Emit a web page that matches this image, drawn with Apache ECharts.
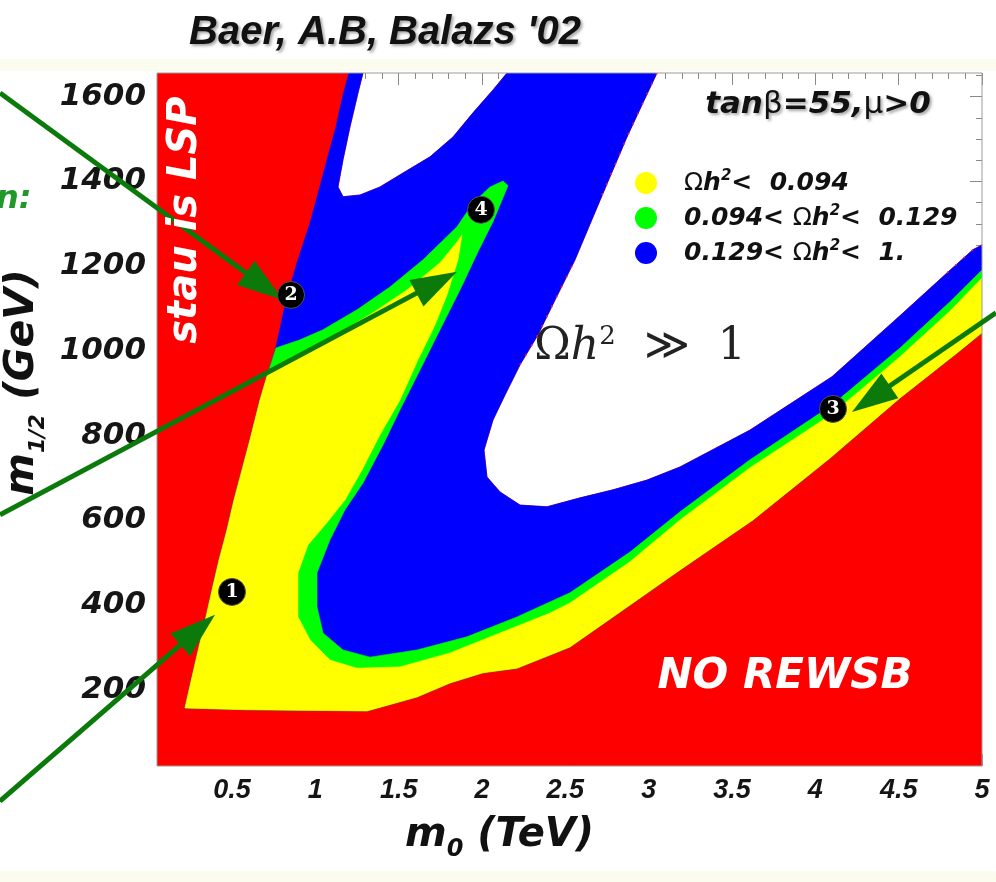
<!DOCTYPE html>
<html><head><meta charset="utf-8">
<script src="https://cdn.jsdelivr.net/npm/echarts@6/dist/echarts.min.js"></script>
<style>html,body{margin:0;padding:0;background:#fff}#c{width:996px;height:882px}</style>
</head><body><div id="c"></div>
<script>
// ---------------- axes ----------------
const X_MIN = 0.05, X_MAX = 5.0, Y_MIN = 20, Y_MAX = 1656;
const xMajorTicks = [0.5,1,1.5,2,2.5,3,3.5,4,4.5,5];
const xTickLabels = ['0.5','1','1.5','2','2.5','3','3.5','4','4.5','5'];
const xMinorTicks = [0.1,0.2,0.3,0.4,0.5,0.6,0.7,0.8,0.9,1.0,1.1,1.2,1.3,1.4,1.5,1.6,1.7,1.8,1.9,2.0,2.1,2.2,2.3,2.4,2.5,2.6,2.7,2.8,2.9,3.0,3.1,3.2,3.3,3.4,3.5,3.6,3.7,3.8,3.9,4.0,4.1,4.2,4.3,4.4,4.5,4.6,4.7,4.8,4.9,5.0];
const yMajorTicks = [200,400,600,800,1000,1200,1400,1600];
const yTickLabels = ['200','400','600','800','1000','1200','1400','1600'];
const yMinorTicks = [50,100,150,200,250,300,350,400,450,500,550,600,650,700,750,800,850,900,950,1000,1050,1100,1150,1200,1250,1300,1350,1400,1450,1500,1550,1600,1650];

// ---------------- region boundaries [m0 (TeV), m1/2 (GeV)] ----------------
// stau-LSP boundary, bottom -> top
const stauEdge = [[0.218,157],[0.266,240],[0.302,301],[0.344,372],[0.380,435],[0.422,506],[0.470,577],[0.512,648],[0.560,719],[0.608,790],[0.668,884],[0.716,948],[0.764,1009],[0.812,1097],[0.848,1151],[0.890,1208],[0.968,1302],[1.022,1380],[1.070,1451],[1.124,1529],[1.166,1604],[1.202,1656]];
// lower edge of scanned region
const bottomEdge = [[0.578,153]];
// no-REWSB boundary, left -> right
const rewsbEdge = [[1.310,150],[1.610,183],[1.808,216],[2.006,240],[2.210,251],[2.408,282],[2.528,301],[2.888,400],[3.188,483],[3.626,601],[4.088,747],[4.508,889],[4.850,995],[5.0,1043]];
// white (Omega h^2 > 1) upper-left pocket, top-left -> top-right
const whiteBlob = [[1.286,1656],[1.256,1609],[1.208,1529],[1.166,1451],[1.136,1387],[1.166,1364],[1.268,1368],[1.388,1387],[1.526,1420],[1.688,1458],[1.826,1505],[1.946,1562],[2.066,1616],[2.150,1656]];
// white (Omega h^2 >> 1) main region, top -> bottom tip -> right edge
const whiteMain = [[3.050,1656],[2.966,1586],[2.870,1505],[2.768,1411],[2.666,1316],[2.558,1215],[2.438,1120],[2.336,1038],[2.228,967],[2.138,896],[2.066,837],[2.012,766],[2.030,702],[2.108,667],[2.228,636],[2.390,632],[2.588,653],[2.786,672],[2.990,695],[3.188,726],[3.608,813],[4.100,939],[4.508,1083],[4.790,1184],[4.946,1239],[5.0,1250]];
// stretches of the white edge speckled with red cells
const redSpeckleA = [[3.050,1656],[2.966,1586],[2.870,1505],[2.768,1411],[2.700,1350]];
const redSpeckleB = [[2.540,1200],[2.438,1120],[2.336,1038],[2.228,967]];
const redSpeckleC = [[4.790,1184],[4.946,1239],[5.0,1250]];
// green / blue boundary
const greenEdge = [[0.764,1007],[0.908,1026],[1.046,1050],[1.250,1097],[1.448,1151],[1.646,1215],[1.850,1293],[1.946,1349],[2.048,1387],[2.126,1401],[2.156,1390],[2.066,1305],[1.976,1234],[1.868,1144],[1.748,1050],[1.628,955],[1.508,861],[1.406,778],[1.286,688],[1.178,625],[1.088,554],[1.010,476],[1.010,396],[1.046,334],[1.166,294],[1.328,277],[1.610,294],[1.910,325],[2.210,372],[2.528,429],[2.888,525],[3.188,620],[3.608,743],[4.100,872],[4.508,1007],[4.808,1116],[5.0,1191]];
// yellow / green boundary
const yellowEdge = [[0.724,955],[0.770,960],[0.950,995],[1.148,1043],[1.346,1090],[1.550,1144],[1.748,1208],[1.850,1257],[1.880,1274],[1.856,1215],[1.790,1132],[1.718,1061],[1.616,979],[1.508,884],[1.388,802],[1.280,719],[1.178,648],[1.058,589],[0.956,542],[0.896,476],[0.896,372],[0.968,318],[1.088,270],[1.250,251],[1.508,254],[1.808,287],[2.108,334],[2.408,381],[2.528,405],[2.888,502],[3.188,601],[3.608,724],[4.100,851],[4.508,986],[4.808,1094],[5.0,1172]];

// benchmark points
const markerPoints = [[0.500,431],[0.854,1132],[4.106,863],[1.994,1333]];
const markerLabels = ['1','2','3','4'];
// annotation arrows (start -> tip)
const arrowStarts = [[-0.892,1609],[-0.892,613],[-0.892,-63],[5.084,1090]];
const arrowEnds   = [[0.806,1120],[1.850,1187],[0.398,377],[4.220,856]];

const legendNames = ['yellow','green','blue'];
const legendTexts = ['{o|Ω}{t|h}{p|2}{t|<  0.094}','{t|0.094< }{o|Ω}{t|h}{p|2}{t|<  0.129}','{t|0.129< }{o|Ω}{t|h}{p|2}{t|<  1.}'];

// ---------------- build polygons ----------------
const rewsbRev = rewsbEdge.slice().reverse();
const redPoly = [[X_MIN,Y_MIN],[X_MIN,Y_MAX]].concat(whiteBlob, whiteMain, [[X_MAX,Y_MIN]]);
const bluePoly = stauEdge.concat(whiteBlob, whiteMain, rewsbRev, bottomEdge);
const greenPoly = greenEdge.concat(rewsbRev, bottomEdge, stauEdge.filter(p => p[1] < greenEdge[0][1]));
const yellowPoly = yellowEdge.concat(rewsbRev, bottomEdge, stauEdge.filter(p => p[1] < yellowEdge[0][1]));

function regionSeries(name, pts, color) {
  return {
    type: 'custom', name: name, coordinateSystem: 'cartesian2d', xAxisIndex: 0, yAxisIndex: 0,
    data: pts, z: 2, silent: true, clip: true, itemStyle: {color: color},
    encode: {x: 0, y: 1},
    renderItem: function (params, api) {
      if (params.dataIndex !== 0) return null;
      return {type: 'polygon', shape: {points: pts.map(p => api.coord(p))},
        style: {fill: color, stroke: color, lineWidth: 0.6}};
    }
  };
}
function speckleSeries(pts) {
  return {
    type: 'custom', coordinateSystem: 'cartesian2d', data: pts, z: 3, silent: true, clip: true,
    encode: {x: 0, y: 1},
    renderItem: function (params, api) {
      if (params.dataIndex !== 0) return null;
      return {type: 'polyline', shape: {points: pts.map(p => api.coord(p))},
        style: {fill: 'none', stroke: '#ff2020', lineWidth: 1.6, lineDash: [2, 9]}};
    }
  };
}

const F_SANS = '"DejaVu Sans", sans-serif';
const F_ARIAL = '"Liberation Sans", Arial, sans-serif';
const F_SERIF = '"DejaVu Serif", "Liberation Serif", serif';
const tickColor = '#8a8a8a';

function xAxisDef(pos, major) {
  return {
    type: 'value', min: X_MIN, max: X_MAX, position: pos, gridIndex: 0,
    splitLine: {show: false}, axisLine: {show: false},
    axisTick: {show: true, inside: true, length: major ? 12 : 6, customValues: major ? xMajorTicks : xMinorTicks, lineStyle: {color: tickColor, width: 1}},
    axisLabel: {show: false}
  };
}
function yAxisDef(pos, major) {
  return {
    type: 'value', min: Y_MIN, max: Y_MAX, position: pos, gridIndex: 0,
    splitLine: {show: false}, axisLine: {show: false},
    axisTick: {show: true, inside: true, length: major ? 12 : 6, customValues: major ? yMajorTicks : yMinorTicks, lineStyle: {color: tickColor, width: 1}},
    axisLabel: {show: false}
  };
}

const xMain = xAxisDef('bottom', true);
xMain.axisLabel = {
  show: true, customValues: xMajorTicks, margin: 11,
  formatter: v => { const i = xMajorTicks.findIndex(t => Math.abs(t - v) < 1e-9); return i >= 0 ? xTickLabels[i] : ''; },
  fontFamily: F_ARIAL, fontSize: 27, fontStyle: 'italic', fontWeight: 'bold', color: '#151515'
};
xMain.name = '{m|m}{s|0}{m| (TeV)}';
xMain.nameLocation = 'middle';
xMain.nameGap = 44;
xMain.nameTextStyle = {
  padding: [0, 140, 0, 0],
  rich: {
    m: {fontFamily: F_SANS, fontSize: 40, fontStyle: 'italic', fontWeight: 'bold', color: '#111', lineHeight: 52, verticalAlign: 'middle'},
    s: {fontFamily: F_SANS, fontSize: 24, fontStyle: 'italic', fontWeight: 'bold', color: '#111', lineHeight: 24, verticalAlign: 'bottom'}
  }
};

const yMain = yAxisDef('left', true);
yMain.axisLabel = {
  show: true, customValues: yMajorTicks, margin: 11,
  formatter: v => { const i = yMajorTicks.findIndex(t => Math.abs(t - v) < 1e-9); return i >= 0 ? yTickLabels[i] : ''; },
  fontFamily: F_SANS, fontSize: 31, fontStyle: 'italic', fontWeight: 'bold', color: '#151515'
};
yMain.name = '{m|m}{s|1/2}{m| (GeV)}';
yMain.nameLocation = 'middle';
yMain.nameRotate = 90;
yMain.nameGap = 100;
yMain.nameTextStyle = {
  padding: [0, 0, 0, 74],
  rich: {
    m: {fontFamily: F_SANS, fontSize: 41, fontStyle: 'italic', fontWeight: 'bold', color: '#111', lineHeight: 52, verticalAlign: 'middle'},
    s: {fontFamily: F_SANS, fontSize: 22, fontStyle: 'italic', fontWeight: 'bold', color: '#111', lineHeight: 22, verticalAlign: 'bottom'}
  }
};

const shadow = {textShadowColor: 'rgba(0,0,0,0.35)', textShadowBlur: 3, textShadowOffsetX: 2, textShadowOffsetY: 2};

const option = {
  animation: false,
  backgroundColor: '#ffffff',
  grid: {left: 157, top: 73, width: 825, height: 693, containLabel: false, outerBoundsMode: 'none'},
  xAxis: [xMain, xAxisDef('bottom', false), xAxisDef('top', true), xAxisDef('top', false)],
  yAxis: [yMain, yAxisDef('left', false), yAxisDef('right', true), yAxisDef('right', false)],
  legend: {
    data: legendNames, orient: 'vertical', left: 630, top: 164, itemWidth: 22, itemHeight: 22, itemGap: 7,
    icon: 'circle', selectedMode: false,
    formatter: name => legendTexts[legendNames.indexOf(name)],
    textStyle: {
      fontFamily: F_SANS, fontSize: 25, fontStyle: 'italic', fontWeight: 'bold', color: '#111', lineHeight: 28,
      padding: [0, 0, 0, 22],
      rich: {
        o: {fontFamily: F_SANS, fontSize: 25, fontStyle: 'normal', fontWeight: 'normal', color: '#111', lineHeight: 28},
        t: {fontFamily: F_SANS, fontSize: 25, fontStyle: 'italic', fontWeight: 'bold', color: '#111', lineHeight: 28},
        p: {fontFamily: F_SANS, fontSize: 15, fontStyle: 'italic', fontWeight: 'bold', color: '#111', lineHeight: 15, verticalAlign: 'top'}
      }
    }
  },
  series: [
    regionSeries('red', redPoly, '#ff0000'),
    regionSeries('blue', bluePoly, '#0000ff'),
    regionSeries('green', greenPoly, '#00ff00'),
    regionSeries('yellow', yellowPoly, '#ffff00'),
    speckleSeries(redSpeckleA),
    speckleSeries(redSpeckleB),
    speckleSeries(redSpeckleC),
    {
      type: 'custom', name: 'frame', coordinateSystem: 'cartesian2d', data: [[X_MIN, Y_MIN]], z: 8, silent: true, clip: false,
      renderItem: function (params, api) {
        const a = api.coord([X_MIN, Y_MAX]), b = api.coord([X_MAX, Y_MIN]);
        return {type: 'rect', shape: {x: a[0], y: a[1], width: b[0] - a[0], height: b[1] - a[1]},
          style: {fill: 'none', stroke: '#9a9a9a', lineWidth: 1}};
      }
    },
    {
      type: 'custom', name: 'arrows', coordinateSystem: 'cartesian2d', z: 10, silent: true, clip: false,
      data: arrowStarts.map((s, i) => [s[0], s[1], arrowEnds[i][0], arrowEnds[i][1]]),
      encode: {x: [0, 2], y: [1, 3]},
      renderItem: function (params, api) {
        const p0 = api.coord([api.value(0), api.value(1)]);
        const p1 = api.coord([api.value(2), api.value(3)]);
        const dx = p1[0] - p0[0], dy = p1[1] - p0[1];
        const len = Math.sqrt(dx * dx + dy * dy), ux = dx / len, uy = dy / len;
        const L = 46, W = 15;
        const bx = p1[0] - ux * L, by = p1[1] - uy * L;
        const col = '#0b7a0b';
        return {type: 'group', children: [
          {type: 'line', shape: {x1: p0[0], y1: p0[1], x2: p1[0] - ux * L * 0.6, y2: p1[1] - uy * L * 0.6}, style: {stroke: col, lineWidth: 5}},
          {type: 'polygon', shape: {points: [[p1[0], p1[1]], [bx - uy * W, by + ux * W], [bx + uy * W, by - ux * W]]}, style: {fill: col}}
        ]};
      }
    },
    {
      type: 'scatter', name: 'points', data: markerPoints, z: 12, silent: true,
      symbol: 'circle', symbolSize: 27,
      itemStyle: {color: '#000000', opacity: 1, borderColor: '#555', borderWidth: 1},
      label: {show: true, position: 'inside', formatter: p => markerLabels[p.dataIndex],
        fontFamily: F_SERIF, fontWeight: 'bold', fontSize: 19, color: '#ffffff'}
    }
  ],
  graphic: [
    {type: 'rect', left: 0, top: 59, shape: {width: 996, height: 12}, style: {fill: '#fbfbee'}, silent: true, z: -10},
    {type: 'rect', left: 0, top: 871, shape: {width: 996, height: 11}, style: {fill: '#fbfbee'}, silent: true, z: -10},
    {type: 'text', x: 385, y: 33, z: 20, silent: true,
      style: Object.assign({text: "Baer, A.B, Balazs '02", font: 'italic bold 40px "Liberation Sans", Arial, sans-serif', fill: '#111',
        textAlign: 'center', textVerticalAlign: 'middle', align: 'center', verticalAlign: 'middle'}, shadow)},
    {type: 'text', x: 818, y: 105, z: 20, silent: true,
      style: Object.assign({text: '{b|tan}{s|β}{b|=55,}{s|μ}{b|>0}', fill: '#111',
        textAlign: 'center', textVerticalAlign: 'middle', align: 'center', verticalAlign: 'middle',
        rich: {
          b: {fontFamily: F_SANS, fontSize: 31, fontStyle: 'italic', fontWeight: 'bold', fill: '#111', color: '#111'},
          s: {fontFamily: F_SANS, fontSize: 31, fontStyle: 'normal', fontWeight: 'normal', fill: '#111', color: '#111'}
        }}, shadow)},
    {type: 'text', x: 186, y: 220, rotation: Math.PI / 2, z: 20, silent: true,
      style: {text: 'stau is LSP', font: 'italic bold 40px "DejaVu Sans", sans-serif', fill: '#ffffff',
        textAlign: 'center', textVerticalAlign: 'middle', align: 'center', verticalAlign: 'middle'}},
    {type: 'text', x: 785, y: 677, z: 20, silent: true,
      style: {text: 'NO REWSB', font: 'italic bold 42px "DejaVu Sans", sans-serif', fill: '#ffffff',
        textAlign: 'center', textVerticalAlign: 'middle', align: 'center', verticalAlign: 'middle'}},
    {type: 'text', x: 640, y: 348, z: 20, silent: true,
      style: {text: '{o|Ω}{h|h}{p|2}{o|  ≫  1}', fill: '#222',
        textAlign: 'center', textVerticalAlign: 'middle', align: 'center', verticalAlign: 'middle',
        rich: {
          o: {fontFamily: F_SERIF, fontSize: 44, fill: '#222', color: '#222', lineHeight: 48},
          h: {fontFamily: F_SERIF, fontSize: 44, fontStyle: 'italic', fill: '#222', color: '#222', lineHeight: 48},
          p: {fontFamily: F_SERIF, fontSize: 26, fill: '#222', color: '#222', lineHeight: 26, verticalAlign: 'top'}
        }}},
    {type: 'text', x: -4, y: 200, z: 20, silent: true,
      style: {text: 'n:', font: 'italic bold 32px "DejaVu Sans", sans-serif', fill: '#23982a',
        textAlign: 'left', textVerticalAlign: 'middle', align: 'left', verticalAlign: 'middle'}}
  ]
};

const chart = echarts.init(document.getElementById('c'), null, {renderer: 'canvas', width: 996, height: 882});
chart.setOption(option);
</script></body></html>
